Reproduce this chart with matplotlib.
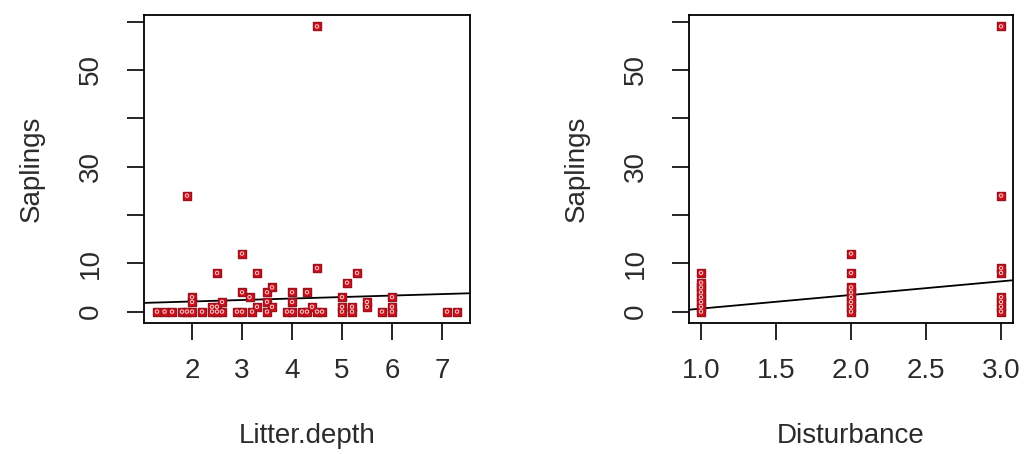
import numpy as np
import matplotlib
matplotlib.use("Agg")
import matplotlib.pyplot as plt

plt.rcParams['font.family'] = ['Liberation Sans', 'DejaVu Sans']

# Saplings vs Litter.depth
litter_depth = [1.3, 1.45, 1.6, 1.8, 1.9, 2.0, 2.2, 1.9, 2.0, 2.0,
                2.4, 2.4, 2.5, 2.5, 2.6, 2.6, 2.5, 2.9, 3.0, 3.2,
                3.0, 3.15, 3.0, 3.3, 3.3, 3.5, 3.5, 3.6, 3.5, 3.6,
                3.9, 4.0, 4.0, 4.0, 4.3, 4.2, 4.3, 4.5, 4.6, 4.4,
                4.5, 4.5, 5.0, 5.0, 5.0, 5.1, 5.2, 5.2, 5.3, 5.5,
                5.5, 5.8, 6.0, 6.0, 6.0, 7.1, 7.3]
saplings_l = [0, 0, 0, 0, 0, 0, 0, 24, 3, 2,
              0, 1, 0, 1, 0, 2, 8, 0, 0, 0,
              4, 3, 12, 8, 1, 0, 2, 1, 4, 5,
              0, 0, 2, 4, 4, 0, 0, 0, 0, 1,
              9, 59, 0, 1, 3, 6, 0, 1, 8, 1,
              2, 0, 0, 1, 3, 0, 0]

# Saplings vs Disturbance (right panel)
disturbance = [1, 1, 1, 1, 1, 1, 1, 1,
               2, 2, 2, 2, 2, 2, 2, 2,
               3, 3, 3, 3, 3, 3, 3, 3]
saplings_d = [0, 1, 2, 3, 4, 5, 6, 8,
              0, 1, 2, 3, 4, 5, 8, 12,
              0, 1, 2, 3, 8, 9, 24, 59]

# fitted lines (intercept, slope) as drawn in the picture
fit_litter = (1.48, 0.306)
fit_dist = (-2.2, 2.82)

fig = plt.figure(figsize=(10.26, 4.54), dpi=100)
ax1 = fig.add_axes([144 / 1026, 1 - 323 / 454, 326 / 1026, 308 / 454])
ax2 = fig.add_axes([689 / 1026, 1 - 323 / 454, 324 / 1026, 308 / 454])

fs = 20


def draw(ax, x, y, fit, xlabel, xticks, xlim):
    ax.scatter(x, y, marker='s', s=36, facecolor='#d0101c', edgecolor='#9a1420',
               linewidths=1.0, zorder=3)
    ax.scatter(x, y, marker='o', s=6, facecolor='none', edgecolor='#f4d0d0',
               linewidths=0.7, zorder=4)
    xs = np.array(xlim)
    ax.plot(xs, fit[0] + fit[1] * xs, color='black', lw=1.3, zorder=2)
    ax.set_xlim(xlim)
    ax.set_ylim(-2.36, 61.36)
    ax.set_yticks(range(0, 61, 10))
    ax.set_yticklabels(['0', '10', '', '30', '', '50', ''], rotation=90, va='center')
    ax.set_xticks(xticks)
    ax.set_xticklabels([f'{t:g}' if isinstance(t, int) else f'{t:.1f}' for t in xticks])
    ax.tick_params(axis='both', direction='out', length=12, width=1.2, labelsize=fs,
                   colors='black', labelcolor='#2b2b2b')
    ax.tick_params(axis='y', pad=17)
    ax.tick_params(axis='x', pad=13)
    for sp in ax.spines.values():
        sp.set_linewidth(1.3)
    ax.set_xlabel(xlabel, fontsize=fs, color='#2b2b2b', labelpad=28)
    ax.set_ylabel('Saplings', fontsize=fs, color='#2b2b2b', labelpad=24)


draw(ax1, litter_depth, saplings_l, fit_litter, 'Litter.depth',
     [2, 3, 4, 5, 6, 7], (1.04, 7.56))
draw(ax2, disturbance, saplings_d, fit_dist, 'Disturbance',
     [1.0, 1.5, 2.0, 2.5, 3.0], (0.92, 3.08))

fig.savefig('out.png', dpi=100)
